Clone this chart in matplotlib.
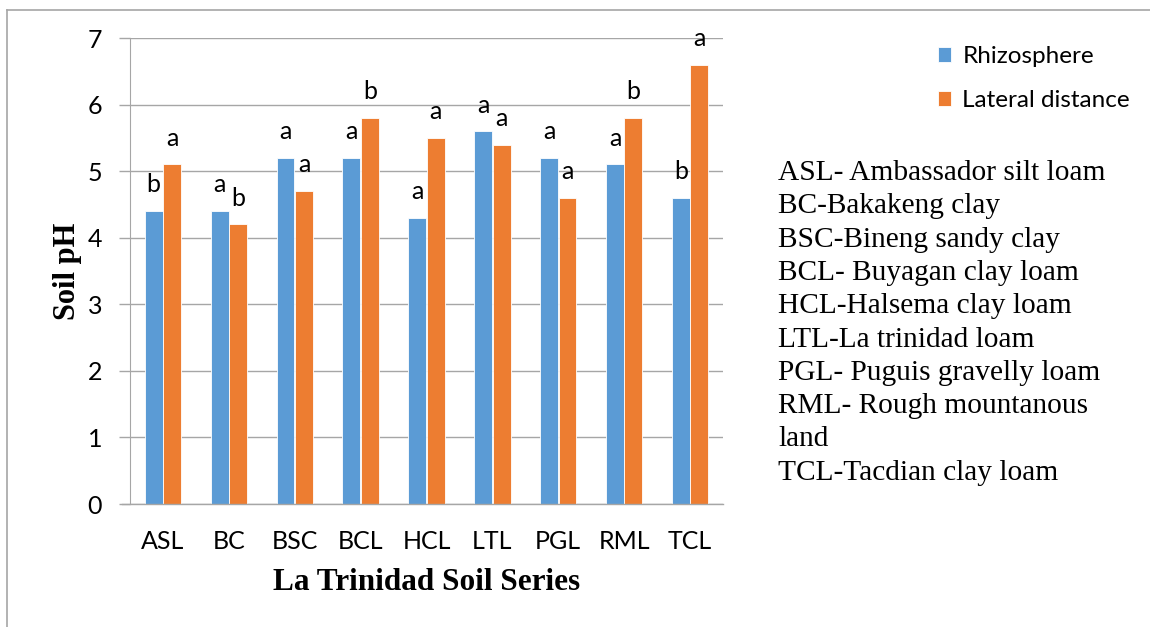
import matplotlib
matplotlib.use("Agg")
import matplotlib.pyplot as plt
import numpy as np
from matplotlib.lines import Line2D

categories = ["ASL", "BC", "BSC", "BCL", "HCL", "LTL", "PGL", "RML", "TCL"]
rhizosphere = [4.4, 4.4, 5.2, 5.2, 4.3, 5.6, 5.2, 5.1, 4.6]
lateral = [5.1, 4.2, 4.7, 5.8, 5.5, 5.4, 4.6, 5.8, 6.6]
rhizo_letters = ["b", "a", "a", "a", "a", "a", "a", "a", "b"]
lateral_letters = ["a", "b", "a", "b", "a", "a", "a", "b", "a"]
series_names = ["Rhizosphere", "Lateral distance"]
key_lines = [
    "ASL- Ambassador silt loam",
    "BC-Bakakeng clay",
    "BSC-Bineng sandy clay",
    "BCL- Buyagan clay loam",
    "HCL-Halsema clay loam",
    "LTL-La trinidad loam",
    "PGL- Puguis gravelly loam",
    "RML- Rough mountanous",
    "land",
    "TCL-Tacdian clay loam",
]

BLUE = "#5B9BD5"
ORANGE = "#ED7D31"
GRID = "#A6A6A6"
SANS = "Lato"
SERIF = "Liberation Serif"
FS = 18

W, H = 1150, 627
fig = plt.figure(figsize=(W / 100, H / 100), dpi=100)
ax = fig.add_axes([130 / W, 1 - 504 / H, (723 - 130) / W, (504 - 38) / H])

x = np.arange(len(categories))
bw = 0.27
off = 0.14
b1 = ax.bar(x - off, rhizosphere, bw, color=BLUE, edgecolor="white", linewidth=0.6, zorder=3)
b2 = ax.bar(x + off, lateral, bw, color=ORANGE, edgecolor="white", linewidth=0.6, zorder=3)

for xi, v, t in zip(x, rhizosphere, rhizo_letters):
    ax.text(xi - off, v + 0.28, t, ha="center", va="baseline", fontsize=FS, family=SANS, zorder=4)
for xi, v, t in zip(x, lateral, lateral_letters):
    ax.text(xi + off, v + 0.28, t, ha="center", va="baseline", fontsize=FS, family=SANS, zorder=4)

ax.set_xlim(-0.5, len(categories) - 0.5)
ax.set_ylim(0, 7)
ax.set_yticks(range(0, 8))
ax.set_xticks(x)
ax.set_xticklabels(categories, family=SANS, fontsize=FS)
for lab in ax.get_yticklabels():
    lab.set_family(SANS)
    lab.set_fontsize(FS)
ax.yaxis.grid(True, color=GRID, linewidth=1, zorder=0)
ax.set_axisbelow(True)
for s in ["top", "right", "bottom"]:
    ax.spines[s].set_visible(False)
ax.spines["left"].set_color(GRID)
ax.tick_params(axis="y", length=8, color=GRID, pad=12, width=1)
ax.tick_params(axis="x", length=0, pad=19)
# x axis baseline extending slightly left of y axis
ax.plot([-0.5 - 8 / 65.9, len(categories) - 0.5], [0, 0], color=GRID, lw=1, clip_on=False, zorder=5)

ax.set_xlabel("La Trinidad Soil Series", family=SERIF, fontweight="bold", fontsize=22.5)
ax.xaxis.label.set_va("center")
ax.xaxis.set_label_coords(0.5, (504 - 582) / 466, transform=ax.transAxes)
ax.set_ylabel("Soil pH", family=SERIF, fontweight="bold", fontsize=22)
ax.yaxis.label.set_va("center")
ax.yaxis.set_label_coords((67 - 130) / 593, (504 - 271) / 466, transform=ax.transAxes)

leg = fig.legend([b1, b2], series_names, loc="upper left",
                 bbox_to_anchor=(938 / W, 1 - 46 / H), frameon=False,
                 prop={"family": SANS, "size": 17.5}, handlelength=0.55, handleheight=0.55,
                 handletextpad=0.45, labelspacing=0.95, borderpad=0, borderaxespad=0)

for i, line in enumerate(key_lines):
    fig.text(778 / W, 1 - (180 + i * 33.3) / H, line, family=SERIF, fontsize=21.2,
             ha="left", va="baseline")

fig.add_artist(Line2D([7 / W, 7 / W], [0, 1 - 10 / H], color=GRID, lw=1.2))
fig.add_artist(Line2D([7 / W, 1], [1 - 10 / H, 1 - 10 / H], color=GRID, lw=1.2))

fig.savefig("out.png", dpi=100)
